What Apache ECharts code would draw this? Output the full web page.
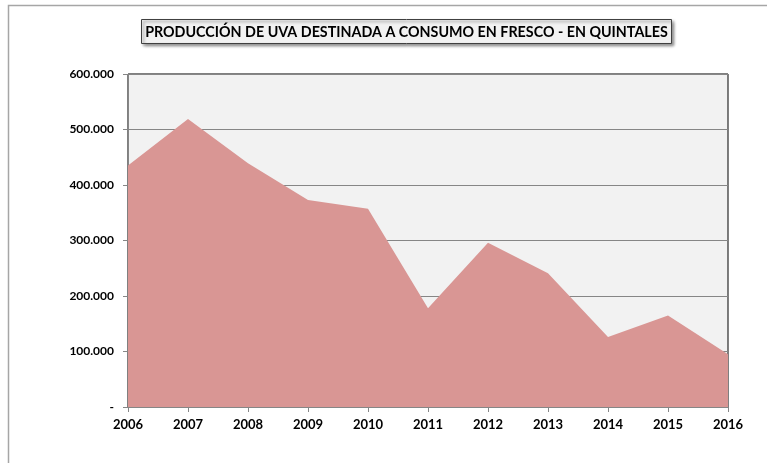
<!DOCTYPE html>
<html>
<head>
<meta charset="utf-8">
<script src="https://cdn.jsdelivr.net/npm/echarts@6/dist/echarts.min.js"></script>
<style>
  html, body { margin: 0; padding: 0; background: #fff; }
  #chart { width: 767px; height: 463px; }
</style>
</head>
<body>
<div id="chart"></div>
<script>
  // datos
  var years = ['2006', '2007', '2008', '2009', '2010', '2011', '2012', '2013', '2014', '2015', '2016'];
  var quintales = [435000, 519000, 439000, 373000, 357000, 178000, 296000, 241000, 126000, 165000, 95000];
  var yTicks = [0, 100000, 200000, 300000, 400000, 500000, 600000];
  var chartTitle = 'PRODUCCIÓN DE UVA DESTINADA A CONSUMO EN FRESCO - EN QUINTALES';

  function fmt(v) {
    if (v === 0) return '-';
    return String(v).replace(/\B(?=(\d{3})+(?!\d))/g, '.');
  }

  var chart = echarts.init(document.getElementById('chart'));
  chart.setOption({
    animation: false,
    textStyle: { fontFamily: 'Lato' },
    graphic: [
      {
        type: 'rect',
        shape: { x: 8.5, y: 5.5, width: 770, height: 480 },
        style: { fill: 'none', stroke: '#a6a6a6', lineWidth: 1.5 },
        silent: true
      },
      {
        type: 'rect',
        shape: { x: 141.5, y: 19.5, width: 530, height: 24 },
        style: {
          fill: '#f2f2f2', stroke: '#404040', lineWidth: 1,
          shadowBlur: 3, shadowOffsetX: 2, shadowOffsetY: 2, shadowColor: 'rgba(0,0,0,0.45)'
        },
        z: 10
      },
      {
        type: 'text',
        x: 406.5, y: 32,
        style: {
          text: chartTitle, fill: '#000', font: 'bold 14.3px Lato',
          align: 'center', verticalAlign: 'middle'
        },
        z: 11
      }
    ],
    grid: {
      left: 128, right: 39, top: 74, bottom: 56,
      show: true, backgroundColor: '#f2f2f2', borderColor: '#000', borderWidth: 1
    },
    xAxis: {
      type: 'category',
      data: years,
      boundaryGap: false,
      axisLine: { lineStyle: { color: '#868686', width: 1 } },
      axisTick: { show: true, length: 5, lineStyle: { color: '#868686' } },
      axisLabel: { color: '#000', fontWeight: 'bold', fontSize: 13, margin: 11 },
      splitLine: { show: false }
    },
    yAxis: {
      type: 'value',
      min: yTicks[0],
      max: yTicks[yTicks.length - 1],
      interval: yTicks[1] - yTicks[0],
      axisLine: { show: true, lineStyle: { color: '#868686', width: 1 } },
      axisTick: { show: true, length: 5, lineStyle: { color: '#868686' } },
      axisLabel: { color: '#000', fontWeight: 'bold', fontSize: 12, margin: 14, formatter: fmt },
      splitLine: { show: true, lineStyle: { color: '#868686', width: 1 } }
    },
    series: [{
      type: 'line',
      data: quintales,
      symbol: 'none',
      lineStyle: { width: 0, color: '#d99694' },
      areaStyle: { color: '#d99694', opacity: 1 },
      z: 3
    }]
  });
</script>
</body>
</html>
